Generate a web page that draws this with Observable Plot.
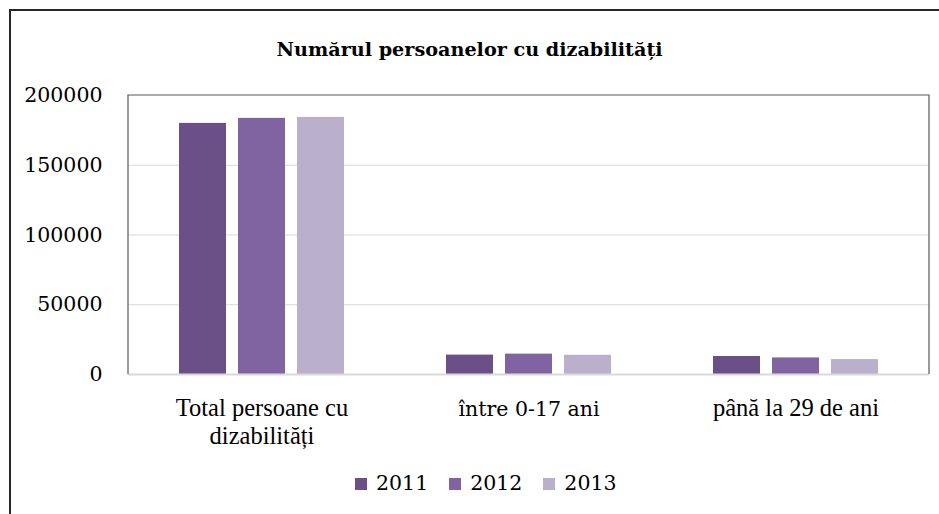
<!DOCTYPE html>
<html><head><meta charset="utf-8">
<script src="https://cdn.jsdelivr.net/npm/d3@7"></script>
<script src="https://cdn.jsdelivr.net/npm/@observablehq/plot@0.6"></script>
<style>
html,body{margin:0;padding:0;background:#fff;width:939px;height:514px;overflow:hidden;}
#wrap{position:relative;width:939px;height:514px;}
#border{position:absolute;left:9px;top:9px;width:960px;height:540px;border:2px solid #262626;box-sizing:border-box;}
#title{position:absolute;left:0;top:40px;width:939px;text-align:center;font-family:"DejaVu Serif",serif;font-weight:bold;font-size:19.2px;line-height:1;color:#000;white-space:nowrap;}
#chart{position:absolute;left:0;top:0;}
#legend{position:absolute;left:355px;top:473px;display:flex;font-family:"DejaVu Serif",serif;font-size:20.5px;line-height:1;color:#000;}
#legend .item{display:flex;align-items:baseline;margin-right:21px;}
#legend .sw{display:inline-block;width:12px;height:12px;margin-right:9px;}
</style>
</head><body>
<div id="wrap">
  <div id="border"></div>
  <div id="title">Numărul persoanelor cu dizabilități</div>
  <div id="chart"></div>
  <div id="legend"></div>
</div>
<script>
const categories = ["Total persoane cu dizabilități", "între 0-17 ani", "până la 29 de ani"];
const categoryLabels = ["Total persoane cu\ndizabilități", "între 0-17 ani", "până la 29 de ani"];
const years = ["2011", "2012", "2013"];
const values2011 = [180000, 13900, 12900];
const values2012 = [183600, 14600, 11900];
const values2013 = [184300, 13800, 10700];
const colors = ["#6a5086", "#8064a2", "#bab0cb"];
const yTicks = [0, 50000, 100000, 150000, 200000];

const seriesValues = [values2011, values2012, values2013];
const data = [];
years.forEach((yr, i) => {
  categories.forEach((c, j) => data.push({category: c, year: yr, value: seriesValues[i][j]}));
});
const labelRows = categories.map((c, j) => ({category: c, label: categoryLabels[j]}));
const timesLabels = labelRows.filter((d, j) => j !== 1);
const cambriaLabels = labelRows.filter((d, j) => j === 1);

const plot = Plot.plot({
  width: 939,
  height: 460,
  marginLeft: 128,
  marginRight: 10,
  marginTop: 95,
  marginBottom: 86,
  style: {fontFamily: "DejaVu Serif", fontSize: "20.5px", background: "transparent", overflow: "visible", color: "#000"},
  fx: {domain: categories, padding: 0, axis: null},
  x: {domain: years, paddingInner: 0.203, paddingOuter: 0.864, axis: null},
  y: {domain: [0, 200000], axis: null},
  color: {domain: years, range: colors},
  marks: [
    Plot.ruleY(yTicks.filter(d => d > 0 && d < 200000), {stroke: "#d9d9d9", strokeWidth: 1.2}),
    Plot.barY(data, {fx: "category", x: "year", y: "value", fill: "year"}),
    Plot.ruleY([0], {stroke: "#d9d9d9", strokeWidth: 2}),
    Plot.axisY({ticks: yTicks, tickSize: 0, tickPadding: 26, tickFormat: d => String(d), fontFamily: "DejaVu Serif", fontSize: 20.5, fill: "#000", label: null}),
    Plot.text(timesLabels, {fx: "category", text: "label", frameAnchor: "bottom", lineAnchor: "top", dy: 21, fontFamily: "Liberation Serif", fontSize: 24.5, lineHeight: 1.15, fill: "#000"}),
    Plot.text(cambriaLabels, {fx: "category", text: "label", frameAnchor: "bottom", lineAnchor: "top", dy: 27, fontFamily: "DejaVu Serif", fontSize: 20.5, fill: "#000"})
  ]
});
document.getElementById("chart").appendChild(plot);

// plot-area box (top, left, right edges) from the library's scales
const yr = plot.scale("y").range;
const fxr = plot.scale("fx").range;
d3.select(plot).append("path")
  .attr("d", `M${fxr[0]},${yr[0]}V${yr[1]}H${fxr[1]}V${yr[0]}`)
  .attr("fill", "none")
  .attr("stroke", "#595959")
  .attr("stroke-width", 1.2);

// legend
const legend = d3.select("#legend");
years.forEach((y, i) => {
  const it = legend.append("div").attr("class", "item");
  it.append("span").attr("class", "sw").style("background", colors[i]);
  it.append("span").text(y);
});
</script>
</body></html>
